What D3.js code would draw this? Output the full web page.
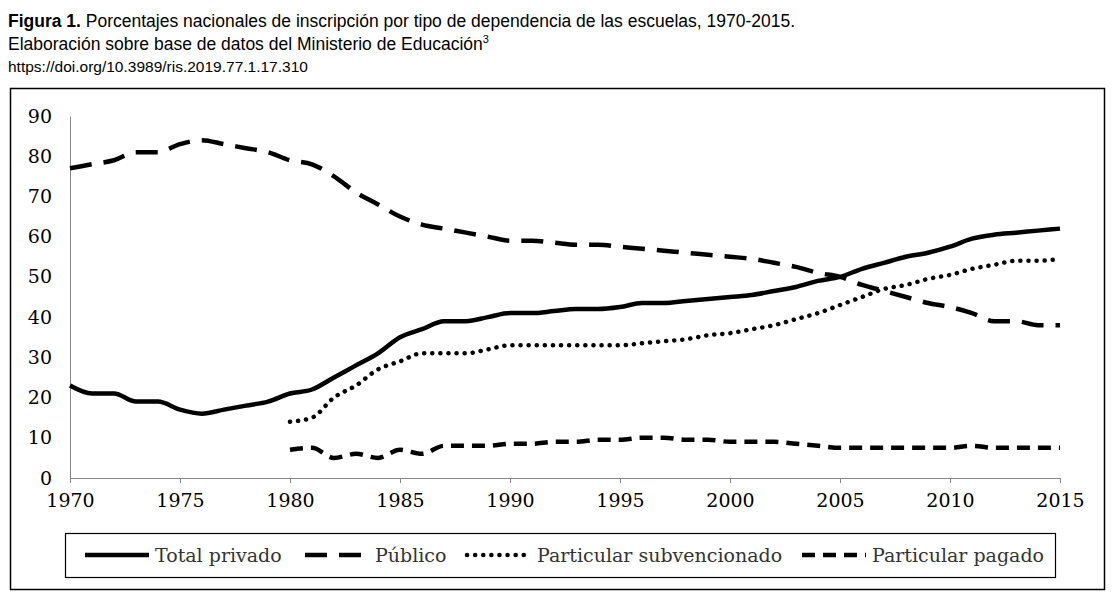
<!DOCTYPE html>
<html><head><meta charset="utf-8">
<script src="https://cdn.jsdelivr.net/npm/d3@7"></script>
<style>body{margin:0;background:#fff}</style>
</head><body><svg id="c" width="1117" height="596"></svg>
<script>
const years = d3.range(1970, 2016);
const yearsFrom1980 = d3.range(1980, 2016);
const totalPrivado = [23,21,21,19,19,17,16,17,18,19,21,22,25,28,31,35,37,39,39,40,41,41,41.5,42,42,42.5,43.5,43.5,44,44.5,45,45.5,46.5,47.5,49,50,52,53.5,55,56,57.5,59.5,60.5,61,61.5,62];
const publico = [77,78,79,81,81,83,84,83,82,81,79,78,75,71,68,65,63,62,61,60,59,59,58.5,58,58,57.5,57,56.5,56,55.5,55,54.5,53.5,52.5,51,50,48,46.5,45,43.5,42.5,41,39,39,38,38];
const subvencionado = [14,15,20,23,27,29,31,31,31,32,33,33,33,33,33,33,33.5,34,34.5,35.5,36,37,38,39.5,41,43,45,47,48,49.5,50.5,52,53,54,54,54.5];
const pagado = [7,7.5,5,6,5,7,6,8,8,8,8.5,8.5,9,9,9.5,9.5,10,10,9.5,9.5,9,9,9,8.5,8,7.5,7.5,7.5,7.5,7.5,7.5,8,7.5,7.5,7.5,7.5];
const xTicks = d3.range(1970, 2016, 5);
const yTicks = d3.range(0, 91, 10);

const series = [
  {name: 'Total privado', x: years, y: totalPrivado, dash: null, cap: 'butt'},
  {name: 'Público', x: years, y: publico, dash: '22,12', cap: 'butt'},
  {name: 'Particular subvencionado', x: yearsFrom1980, y: subvencionado, dash: '0.1,8', cap: 'round'},
  {name: 'Particular pagado', x: yearsFrom1980, y: pagado, dash: '13,8', cap: 'butt'},
];

const svg = d3.select('#c');
const tf = '17.5px Arial, "Liberation Sans", sans-serif';
const t = svg.append('text').attr('x', 8).attr('y', 27).style('font', tf);
t.append('tspan').style('font-weight', 'bold').text('Figura 1.');
t.append('tspan').text(' Porcentajes nacionales de inscripción por tipo de dependencia de las escuelas, 1970-2015.');
const t2 = svg.append('text').attr('x', 8).attr('y', 50).style('font', tf);
t2.append('tspan').text('Elaboración sobre base de datos del Ministerio de Educación');
t2.append('tspan').attr('dy', -7).style('font-size', '11px').text('3');
svg.append('text').attr('x', 8).attr('y', 72).style('font', '15.5px Arial, "Liberation Sans", sans-serif')
  .text('https://doi.org/10.3989/ris.2019.77.1.17.310');

svg.append('rect').attr('x', 10.5).attr('y', 88.5).attr('width', 1094).attr('height', 501)
  .attr('fill', 'none').attr('stroke', '#000').attr('stroke-width', 1.5);

const x = d3.scaleLinear().domain([1970, 2015]).range([70, 1060]);
const y = d3.scaleLinear().domain([0, 90]).range([478, 116]);
const font = '19px "DejaVu Serif", "Liberation Serif", serif';

const gx = svg.append('g').attr('transform', 'translate(0,478)')
  .call(d3.axisBottom(x).tickValues(xTicks).tickFormat(d3.format('d')).tickSize(5));
gx.selectAll('text').style('font', font).attr('dy', '1.1em');
const gy = svg.append('g').attr('transform', 'translate(70,0)')
  .call(d3.axisLeft(y).tickValues(yTicks).tickSize(0));
gy.selectAll('text').style('font', font).attr('x', -18);
svg.selectAll('.domain').attr('stroke', '#888');
svg.selectAll('.tick line').attr('stroke', '#888');

const line = d3.line().curve(d3.curveMonotoneX);
series.forEach(s => {
  svg.append('path')
    .attr('d', line(s.x.map((v, i) => [x(v), y(s.y[i])])))
    .attr('fill', 'none').attr('stroke', '#000').attr('stroke-width', 4.5)
    .attr('stroke-dasharray', s.dash).attr('stroke-linecap', s.cap);
});

svg.append('rect').attr('x', 65.5).attr('y', 533.5).attr('width', 990).attr('height', 44)
  .attr('fill', 'none').attr('stroke', '#000').attr('stroke-width', 1.2);
const legX = [85, 305, 467, 802];
series.forEach((s, i) => {
  const g = svg.append('g').attr('transform', `translate(${legX[i]},555)`);
  g.append('line').attr('x1', 0).attr('x2', 64).attr('stroke', '#000').attr('stroke-width', 4.5)
    .attr('stroke-dasharray', s.dash).attr('stroke-linecap', s.cap);
  g.append('text').attr('x', 70).attr('dy', '0.35em').style('font', font).attr('fill', '#333').text(s.name);
});
</script></body></html>
